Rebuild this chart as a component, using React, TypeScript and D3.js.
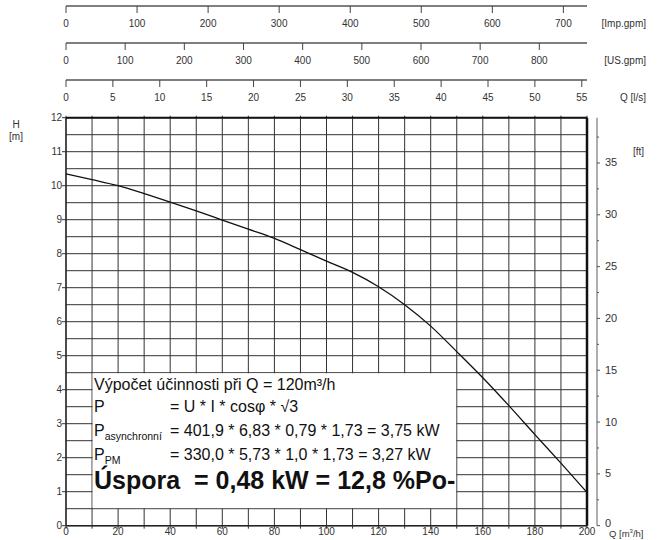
import React from "react";
import * as d3 from "d3";

// ---- data ----
const flowM3h = [0, 10, 20, 30, 40, 50, 60, 70, 80, 90, 100, 110, 120, 130, 140, 150, 160, 170, 180, 190, 200];
const headM = [10.35, 10.18, 10.0, 9.77, 9.52, 9.26, 8.99, 8.72, 8.45, 8.12, 7.78, 7.45, 7.03, 6.5, 5.87, 5.12, 4.35, 3.53, 2.68, 1.84, 0.98];

const qTicks = [0, 20, 40, 60, 80, 100, 120, 140, 160, 180, 200];
const hTicks = [0, 1, 2, 3, 4, 5, 6, 7, 8, 9, 10, 11, 12];
const ftTicks = [0, 5, 10, 15, 20, 25, 30, 35];
const ftMinorTicks = [2.5, 7.5, 12.5, 17.5, 22.5, 27.5, 32.5, 37.5];
const impTicks = [0, 100, 200, 300, 400, 500, 600, 700];
const usTicks = [0, 100, 200, 300, 400, 500, 600, 700, 800];
const lsTicks = [0, 5, 10, 15, 20, 25, 30, 35, 40, 45, 50, 55];

const infoTitle = "Výpočet účinnosti při Q = 120m³/h";
const infoRows = [
  { main: "P", sub: "", formula: "= U * I * cosφ * √3" },
  { main: "P", sub: "asynchronní", formula: "= 401,9 * 6,83 * 0,79 * 1,73 = 3,75 kW" },
  { main: "P", sub: "PM", formula: "= 330,0 * 5,73 * 1,0 * 1,73 = 3,27 kW" },
];
const savingText = "Úspora  = 0,48 kW = 12,8 %Po-";

const IMP_PER_M3H = 3.66615;
const US_PER_M3H = 4.40287;
const LS_PER_M3H = 1 / 3.6;
const FT_PER_M = 3.28084;

export default function App() {
  const x0 = 66, x1 = 587, yTop = 117.7, yBot = 525.7;
  const x = d3.scaleLinear().domain([0, 200]).range([x0, x1]);
  const y = d3.scaleLinear().domain([0, 12]).range([yBot, yTop]);
  const xImp = d3.scaleLinear().domain([0, 200 * IMP_PER_M3H]).range([x0, x1]);
  const xUs = d3.scaleLinear().domain([0, 200 * US_PER_M3H]).range([x0, x1]);
  const xLs = d3.scaleLinear().domain([0, 200 * LS_PER_M3H]).range([x0, x1]);
  const yFt = d3.scaleLinear().domain([0, 12 * FT_PER_M]).range([yBot, yTop]);

  const gridX = d3.range(0, 201, 10);
  const gridY = d3.range(0, 12.01, 0.5);

  const line = d3
    .line<number>()
    .x((_, i) => x(flowM3h[i]))
    .y((d) => y(d))
    .curve(d3.curveMonotoneX);

  const axisFont = "Arial, 'Liberation Sans', sans-serif";
  const axisColor = "#333";

  const topAxes = [
    { scale: xImp, ticks: impTicks, lineY: 6, label: "[Imp.gpm]" },
    { scale: xUs, ticks: usTicks, lineY: 43, label: "[US.gpm]" },
    { scale: xLs, ticks: lsTicks, lineY: 80, label: "Q [l/s]" },
  ];

  const boxX0 = x(10) + 0.6, boxX1 = x(150) - 0.6;
  const boxY0 = y(4.5) + 0.6, boxY1 = y(0.5) - 0.6;
  const ftAxisX = 597;

  return (
    <svg
      width={658}
      height={540}
      style={{ position: "absolute", left: 0, top: 0, background: "#fff" }}
      fontFamily={axisFont}
    >
      <rect x={0} y={0} width={658} height={540} fill="#fff" />

      {/* top axes */}
      {topAxes.map((ax, k) => (
        <g key={k}>
          <line x1={x0} x2={x1} y1={ax.lineY} y2={ax.lineY} stroke="#555" strokeWidth={1.3} />
          {ax.ticks.map((t) => (
            <g key={t}>
              <line x1={ax.scale(t)} x2={ax.scale(t)} y1={ax.lineY} y2={ax.lineY + 7} stroke="#444" strokeWidth={1} />
              <text x={ax.scale(t)} y={ax.lineY + 21} fontSize={10} fill={axisColor} textAnchor="middle">
                {t}
              </text>
            </g>
          ))}
          <text x={646} y={ax.lineY + 21} fontSize={10} fill={axisColor} textAnchor="end">
            {ax.label}
          </text>
        </g>
      ))}

      {/* grid */}
      {gridY.map((h) => (
        <line key={"h" + h} x1={x0} x2={x1} y1={y(h)} y2={y(h)} stroke="#333" strokeWidth={1} />
      ))}
      {gridX.map((q) => (
        <line key={"v" + q} x1={x(q)} x2={x(q)} y1={yTop - 2} y2={yBot + 3} stroke="#333" strokeWidth={1} />
      ))}

      {/* frame */}
      <line x1={x0} x2={x1} y1={yTop} y2={yTop} stroke="#111" strokeWidth={2} />
      <line x1={x1} x2={x1} y1={yTop} y2={yBot} stroke="#111" strokeWidth={2.5} />
      <line x1={x0} x2={x0} y1={yTop} y2={yBot} stroke="#222" strokeWidth={1.3} />
      <line x1={x0} x2={x1} y1={yBot} y2={yBot} stroke="#222" strokeWidth={1.5} />

      {/* left axis */}
      {hTicks.map((h) => (
        <g key={"lt" + h}>
          <line x1={x0 - 4} x2={x0} y1={y(h)} y2={y(h)} stroke="#333" />
          <text x={x0 - 4} y={y(h) + 3.5} fontSize={10} fill={axisColor} textAnchor="end">
            {h}
          </text>
        </g>
      ))}
      <text x={16} y={128} fontSize={10} fill={axisColor} textAnchor="middle">H</text>
      <text x={16} y={140} fontSize={10} fill={axisColor} textAnchor="middle">[m]</text>

      {/* bottom axis */}
      {qTicks.map((q) => (
        <text key={"bq" + q} x={x(q)} y={535} fontSize={10} fill={axisColor} textAnchor="middle">
          {q}
        </text>
      ))}
      <text x={609} y={537} fontSize={9.5} fill={axisColor}>
        Q [m<tspan dy={-4} fontSize={6}>3</tspan><tspan dy={4}>/h]</tspan>
      </text>

      {/* right ft axis */}
      <line x1={ftAxisX} x2={ftAxisX} y1={yTop} y2={yBot} stroke="#777" strokeWidth={1.2} />
      {ftMinorTicks.map((f) => (
        <line key={"fm" + f} x1={ftAxisX} x2={ftAxisX + 2} y1={yFt(f)} y2={yFt(f)} stroke="#555" />
      ))}
      {ftTicks.map((f) => (
        <g key={"ft" + f}>
          <line x1={ftAxisX} x2={ftAxisX + 3} y1={yFt(f)} y2={yFt(f)} stroke="#555" />
          <text x={605} y={yFt(f) + (f === 0 ? 1.5 : 3.5)} fontSize={11} fill={axisColor}>
            {f}
          </text>
        </g>
      ))}
      <text x={633} y={155} fontSize={10} fill={axisColor}>[ft]</text>

      {/* info box */}
      <rect x={boxX0} y={boxY0} width={boxX1 - boxX0} height={boxY1 - boxY0} fill="#fff" />
      <g fill="#111" fontFamily="Arial, 'Liberation Sans', sans-serif">
        <text x={94} y={389.5} fontSize={16}>{infoTitle}</text>
        {infoRows.map((r, i) => (
          <g key={"row" + i}>
            <text x={94} y={411.5 + i * 24} fontSize={16}>
              {r.main}
              {r.sub ? (
                <tspan dy={4} fontSize={10.5}>
                  {r.sub}
                </tspan>
              ) : null}
            </text>
            <text x={170} y={411.5 + i * 24} fontSize={16}>
              {r.formula}
            </text>
          </g>
        ))}
        <text x={94} y={488.5} fontSize={25} fontWeight="bold" style={{ whiteSpace: "pre" }}>
          {savingText}
        </text>
      </g>

      {/* curve */}
      <path d={line(headM) || ""} fill="none" stroke="#111" strokeWidth={1.3} />
    </svg>
  );
}
